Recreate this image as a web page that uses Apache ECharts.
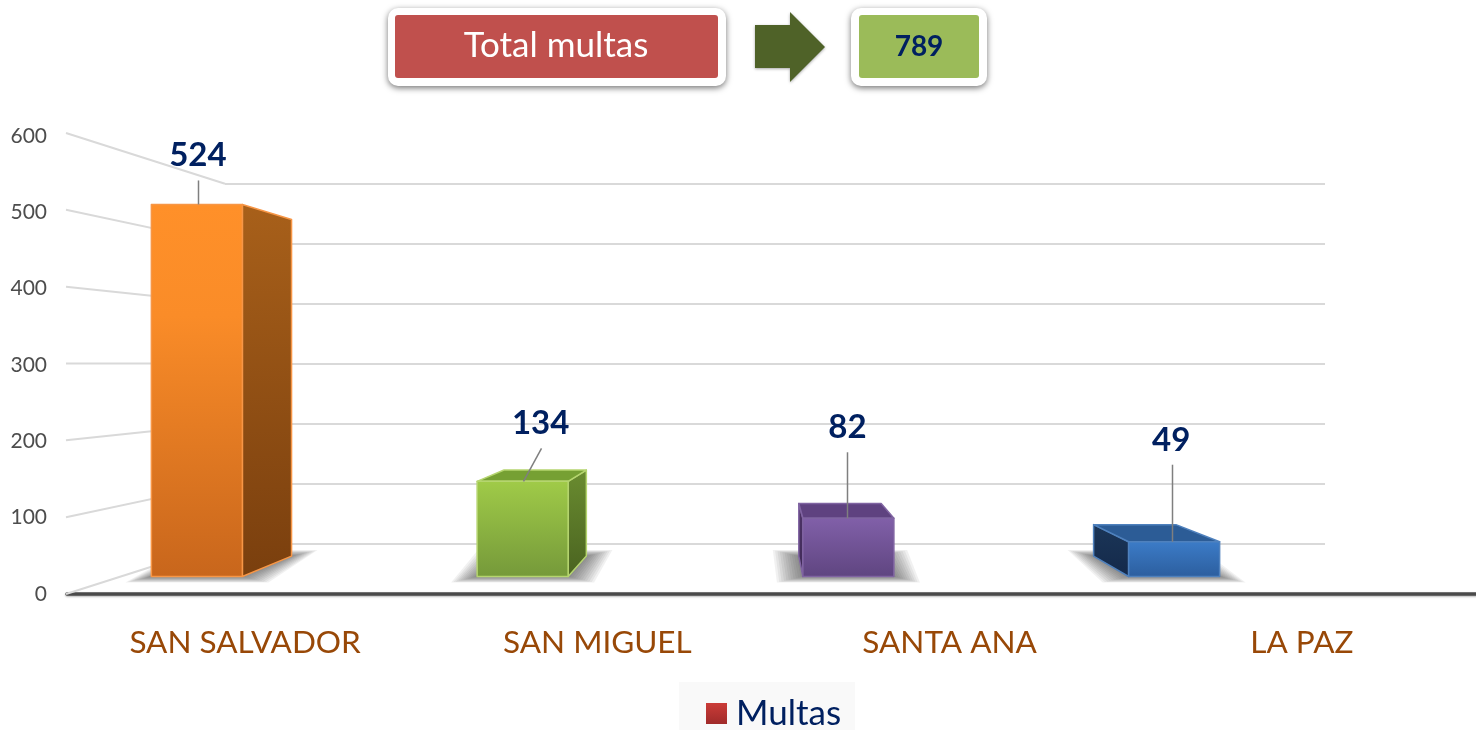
<!DOCTYPE html>
<html>
<head>
<meta charset="utf-8">
<style>html,body{margin:0;padding:0;background:#fff}#c{width:1476px;height:730px}</style>
<script src="https://cdn.jsdelivr.net/npm/echarts@6/dist/echarts.min.js"></script>
</head>
<body>
<div id="c"></div>
<script>
const categories = ['SAN SALVADOR', 'SAN MIGUEL', 'SANTA ANA', 'LA PAZ'];
const multas = [524, 134, 82, 49];
const axisTicks = [0, 100, 200, 300, 400, 500, 600];
const totalLabel = 'Total multas';
const totalValue = '789';
const seriesName = 'Multas';

const FONT = 'Lato';
const NAVY = '#002060';
const VP = [760, 362], DEPTH = 0.095, BAR_W = 91;
const WALL_LINE = '#d9d9d9';

const lg = (a, b) => ({type:'linear',x:0,y:0,x2:0,y2:1,colorStops:[{offset:0,color:a},{offset:1,color:b}]});
const palette = [
  {front:{type:'linear',x:0,y:0,x2:0,y2:1,colorStops:[{offset:0,color:'#FF9029'},{offset:.3,color:'#FA8C28'},{offset:1,color:'#C8661C'}]}, side:lg('#A8601A','#7A3F0E'), top:'#A8601A', edge:'#F79646'},
  {front:lg('#A0CB48','#75993A'), side:lg('#6A8C30','#4A6320'), top:'#76A033', edge:'#B5D56F'},
  {front:lg('#8160A9','#5F4580'), side:lg('#4E3468','#3F2A56'), top:'#5F4280', edge:'#8064A2'},
  {front:lg('#3C7CC8','#2C5E9E'), side:lg('#1B3658','#14294A'), top:'#2C5C96', edge:'#4F81BD'}
];
// leader line start/end and label centre, relative to the middle of each bar's front top edge
const callouts = [
  {sx:1, lx:1, ly:-24, tx:1, ty:-49},
  {sx:0, lx:18, ly:-33, tx:18, ty:-58},
  {sx:-1, lx:-1, ly:-66, tx:-1, ty:-91},
  {sx:-2, lx:-2, ly:-77, tx:-3, ty:-101}
];
const SHADOW_LAYERS = 12;

const back = p => [p[0] + (VP[0]-p[0])*DEPTH, p[1] + (VP[1]-p[1])*DEPTH];

function renderBar(params, api) {
  const i = api.value(0), v = api.value(1);
  const b = api.coord([i, 0]), t = api.coord([i, v]);
  const cx = b[0], L = cx-BAR_W/2, R = cx+BAR_W/2;
  const fl=[L,b[1]], fr=[R,b[1]], tl=[L,t[1]], tr=[R,t[1]];
  const bfl=back(fl), bfr=back(fr), btl=back(tl), btr=back(tr);
  const col = palette[i], kids = [];
  const poly = (pts, fill) => kids.push({type:'polygon',shape:{points:pts},style:{fill:fill,stroke:col.edge,lineWidth:1.5,lineJoin:'round'}});
  // soft floor shadow, built from growing translucent layers
  for (let k = 0; k < SHADOW_LAYERS; k++) {
    const f = k/(SHADOW_LAYERS-1), dx = 26*f, dy = 6*f;
    kids.push({type:'polygon',shape:{points:[
      [fl[0]-dx, fl[1]+dy],[fr[0]+dx, fr[1]+dy],[bfr[0]+dx, bfr[1]-dy],[bfl[0]-dx, bfl[1]-dy]
    ]},style:{fill:'rgba(50,50,50,0.07)'}});
  }
  if (R < VP[0]) poly([tr,btr,bfr,fr], col.side);
  if (L > VP[0]) poly([tl,btl,bfl,fl], col.side);
  if (t[1] > VP[1]) poly([tl,tr,btr,btl], col.top);
  poly([tl,tr,fr,fl], col.front);
  const c = callouts[i];
  kids.push({type:'line',shape:{x1:Math.round(cx+c.sx)+.5,y1:t[1],x2:Math.round(cx+c.lx)+.5,y2:t[1]+c.ly},style:{stroke:'#7f7f7f',lineWidth:1.5}});
  kids.push({type:'text',x:cx+c.tx,y:t[1]+c.ty,style:{text:String(v),fill:NAVY,font:'bold 33px '+FONT,align:'center',verticalAlign:'middle'}});
  return {type:'group',children:kids};
}

function renderWall(params, api) {
  const v = api.value(0);
  const a = api.coord([0, v]), b = api.coord([1, 300 + (v-300)*0.78]);
  return {type:'line',shape:{x1:a[0],y1:a[1],x2:b[0],y2:b[1]},style:{stroke:WALL_LINE,lineWidth:2}};
}

const option = {
  animation:false,
  backgroundColor:'#fff',
  textStyle:{fontFamily:FONT},
  grid:[
    {left:67, width:1412, top:136, height:458},
    {left:225, width:1100, top:184, height:359.5},
    {left:66, width:159, top:133, height:461},
    {left:34, width:1303, top:150.5, height:426}
  ],
  xAxis:[
    {gridIndex:0,type:'category',data:categories,boundaryGap:true,
      axisLine:{lineStyle:{color:'#4a4a4a',width:3.5,shadowBlur:2,shadowColor:'rgba(0,0,0,.3)',shadowOffsetY:1}},axisTick:{show:false},
      axisLabel:{color:'#984807',fontSize:31.5,fontFamily:FONT,margin:33,interval:0,padding:[0,0,0,4]}},
    {gridIndex:1,type:'value',min:0,max:1,show:false,splitLine:{show:false}},
    {gridIndex:2,type:'value',min:0,max:1,show:false,splitLine:{show:false}},
    {gridIndex:3,type:'category',data:categories,show:false}
  ],
  yAxis:[
    {gridIndex:0,type:'value',min:0,max:600,interval:100,
      axisLine:{show:false},axisTick:{show:false},splitLine:{show:false},
      axisLabel:{color:'#4d4d4d',fontSize:21,fontFamily:FONT,margin:20,padding:[5,0,0,0]}},
    {gridIndex:1,type:'value',min:0,max:600,interval:100,
      axisLine:{show:false},axisTick:{show:false},axisLabel:{show:false},
      splitLine:{show:true,lineStyle:{color:WALL_LINE,width:2}}},
    {gridIndex:2,type:'value',min:0,max:600,show:false,splitLine:{show:false}},
    {gridIndex:3,type:'value',min:0,max:600,show:false,splitLine:{show:false}}
  ],
  legend:{
    left:679,top:682,padding:[14,14,7,27],backgroundColor:'#f9f9f9',
    selectedMode:false,itemWidth:21,itemHeight:21,itemGap:0,
    data:[{name:seriesName,icon:'rect',itemStyle:{color:lg('#CB3C38','#A02B2A')}}],
    textStyle:{color:NAVY,fontSize:35,fontFamily:FONT,padding:[0,0,0,4]}
  },
  series:[
    {type:'custom',name:'wall',xAxisIndex:2,yAxisIndex:2,z:1,silent:true,renderItem:renderWall,data:axisTicks.map(v=>[v])},
    {type:'custom',name:seriesName,xAxisIndex:3,yAxisIndex:3,z:3,silent:true,renderItem:renderBar,data:multas.map((v,i)=>[i,v]),encode:{x:0,y:1}}
  ],
  graphic:[
    {type:'rect',shape:{x:388,y:8,width:338,height:78,r:10},style:{fill:'#fff',shadowBlur:6,shadowOffsetY:2,shadowColor:'rgba(0,0,0,.55)'}},
    {type:'rect',shape:{x:395,y:15,width:323,height:63,r:3},style:{fill:'#C0504D'}},
    {type:'text',x:556,y:46,style:{text:totalLabel,fill:'#fff',font:'35px '+FONT,align:'center',verticalAlign:'middle'}},
    {type:'polygon',shape:{points:[[755,25],[790,25],[790,12],[825,47],[790,82],[790,68],[755,68]]},style:{fill:'#4F6228',shadowBlur:3,shadowOffsetY:1,shadowColor:'rgba(0,0,0,.35)'}},
    {type:'rect',shape:{x:851,y:8,width:136,height:78,r:10},style:{fill:'#fff',shadowBlur:6,shadowOffsetY:2,shadowColor:'rgba(0,0,0,.55)'}},
    {type:'rect',shape:{x:859,y:15,width:120,height:63,r:3},style:{fill:'#9BBB59'}},
    {type:'text',x:919,y:47,style:{text:totalValue,fill:NAVY,font:'bold 28px '+FONT,align:'center',verticalAlign:'middle'}}
  ]
};
const chart = echarts.init(document.getElementById('c'));
chart.setOption(option);
</script>
</body>
</html>
